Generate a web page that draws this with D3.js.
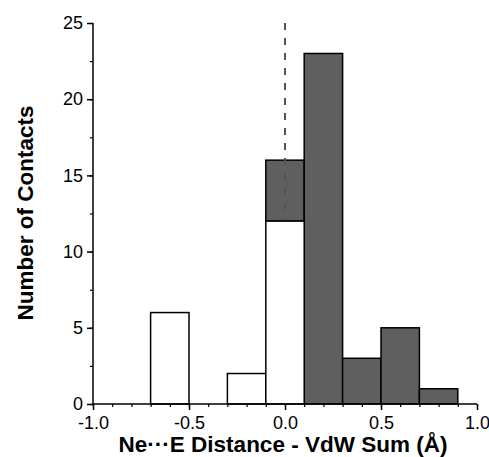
<!DOCTYPE html>
<html>
<head>
<meta charset="utf-8">
<script src="https://cdn.jsdelivr.net/npm/d3@7"></script>
<style>
body { margin: 0; background: #fff; }
svg { display: block; }
</style>
</head>
<body>
<script>
var width = 489;
var height = 457;

// bin centres and counts
var binCenters = [-0.8, -0.6, -0.4, -0.2, 0.0, 0.2, 0.4, 0.6, 0.8];
var whiteCounts = [0, 6, 0, 2, 12, 0, 0, 0, 0];
var grayCounts  = [0, 0, 0, 0, 4, 23, 3, 5, 1];
var binWidth = 0.2;

var xTicks = [-1.0, -0.5, 0.0, 0.5, 1.0];
var yTicks = [0, 5, 10, 15, 20, 25];

var svg = d3.select("body").append("svg")
    .attr("width", width)
    .attr("height", height);

var x = d3.scaleLinear().domain([-1, 1]).range([93, 477]);
var y = d3.scaleLinear().domain([0, 25]).range([404, 23]);

var font = "'Liberation Sans', Arial, Helvetica, sans-serif";

// gray bars sit on top of the white ones
svg.append("g").selectAll("rect")
    .data(binCenters.filter(function(d, i) { return grayCounts[i] > 0; }))
    .enter().append("rect")
    .attr("x", function(d) { return x(d - binWidth / 2); })
    .attr("width", function(d) { return x(d + binWidth / 2) - x(d - binWidth / 2); })
    .attr("y", function(d) { var i = binCenters.indexOf(d); return y(whiteCounts[i] + grayCounts[i]); })
    .attr("height", function(d) { var i = binCenters.indexOf(d); return y(whiteCounts[i]) - y(whiteCounts[i] + grayCounts[i]); })
    .attr("fill", "#5f5f5f")
    .attr("stroke", "#000")
    .attr("stroke-width", 1.5);

// dashed line at zero
svg.append("line")
    .attr("x1", Math.round(x(0))).attr("x2", Math.round(x(0)))
    .attr("y1", y(25)).attr("y2", y(0))
    .attr("stroke", "#555")
    .attr("stroke-width", 2)
    .attr("stroke-dasharray", "7,8");

svg.append("g").selectAll("rect")
    .data(binCenters.filter(function(d, i) { return grayCounts[i] == 0 || whiteCounts[i] > 0; }))
    .enter().append("rect")
    .attr("x", function(d) { return x(d - binWidth / 2); })
    .attr("width", function(d) { return x(d + binWidth / 2) - x(d - binWidth / 2); })
    .attr("y", function(d) { return y(whiteCounts[binCenters.indexOf(d)]); })
    .attr("height", function(d) { return y(0) - y(whiteCounts[binCenters.indexOf(d)]); })
    .attr("fill", "#fff")
    .attr("stroke", "#000")
    .attr("stroke-width", 1.5);

// x axis
var xAxis = svg.append("g")
    .attr("transform", "translate(0," + y(0) + ")")
    .call(d3.axisBottom(x).tickValues(d3.range(-10, 11).map(function(d) { return d / 10; }))
        .tickSize(3).tickFormat(""));
xAxis.call(function(g) {
    g.select(".domain").attr("stroke-width", 1.5).attr("d", "M" + x(-1) + ",0H" + x(1));
    g.selectAll(".tick line").attr("stroke-width", 1.2);
});
var xMajor = svg.append("g")
    .attr("transform", "translate(0," + y(0) + ")")
    .call(d3.axisBottom(x).tickValues(xTicks).tickSize(6).tickPadding(6)
        .tickFormat(function(d) { return d3.format(".1f")(d).replace("−", "-"); }));
xMajor.select(".domain").remove();
xMajor.selectAll(".tick line").attr("stroke-width", 1.5);
xMajor.selectAll("text").attr("font-family", font).attr("font-size", 18).attr("fill", "#000");

// y axis
var yAxis = svg.append("g")
    .attr("transform", "translate(" + x(-1) + ",0)")
    .call(d3.axisLeft(y).tickValues(d3.range(0, 26, 2.5)).tickSize(3).tickFormat(""));
yAxis.select(".domain").attr("stroke-width", 1.5).attr("d", "M0," + y(0) + "V" + y(25));
yAxis.selectAll(".tick line").attr("stroke-width", 1.2);
var yMajor = svg.append("g")
    .attr("transform", "translate(" + x(-1) + ",0)")
    .call(d3.axisLeft(y).tickValues(yTicks).tickSize(6).tickPadding(4));
yMajor.select(".domain").remove();
yMajor.selectAll(".tick line").attr("stroke-width", 1.5);
yMajor.selectAll("text").attr("font-family", font).attr("font-size", 18).attr("fill", "#000");

// titles
svg.append("text")
    .attr("x", 283).attr("y", 452)
    .attr("text-anchor", "middle")
    .attr("font-family", font).attr("font-weight", "bold").attr("font-size", 22.5)
    .text("Ne\u00b7\u00b7\u00b7E Distance - VdW Sum (\u00c5)");

svg.append("text")
    .attr("transform", "translate(33,213) rotate(-90)")
    .attr("text-anchor", "middle")
    .attr("font-family", font).attr("font-weight", "bold").attr("font-size", 22.5)
    .text("Number of Contacts");
</script>
</body>
</html>
